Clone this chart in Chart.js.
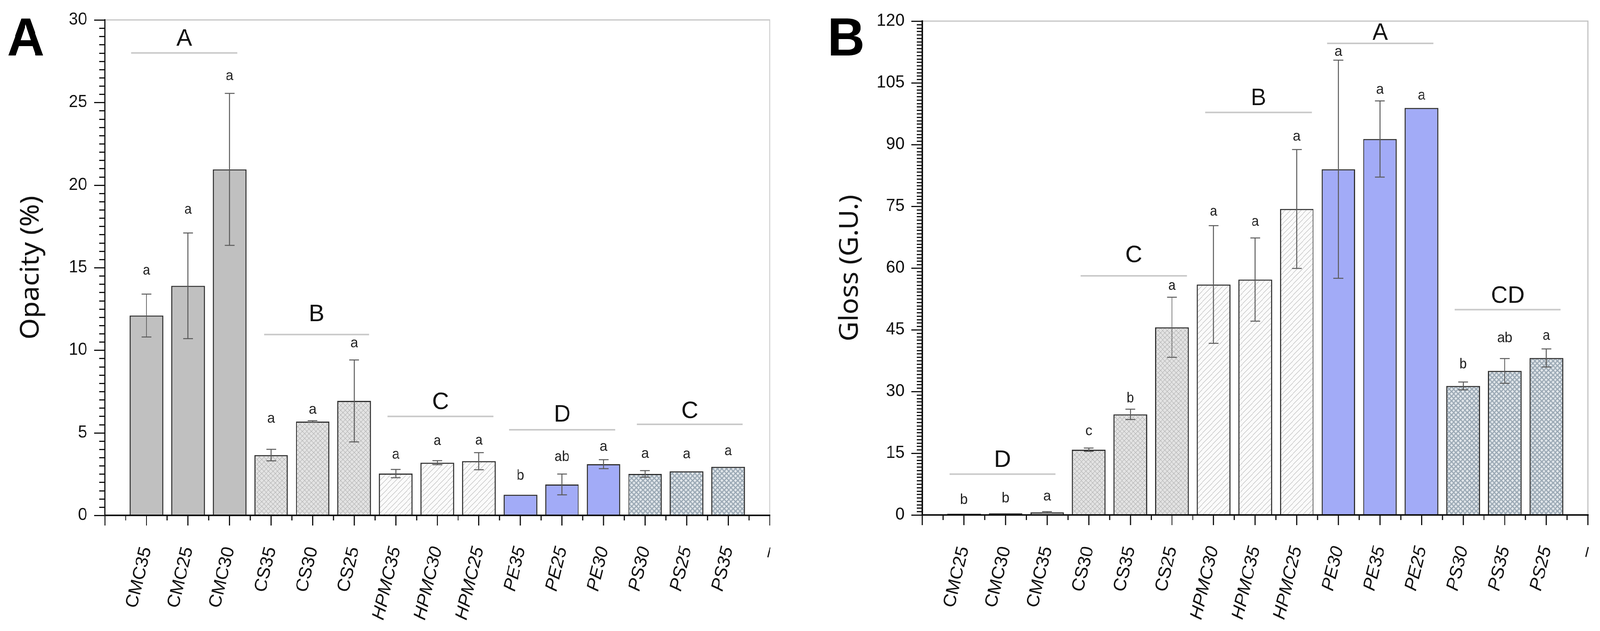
<!DOCTYPE html>
<html>
<head>
<meta charset="utf-8">
<title>Opacity and gloss of films</title>
<script src="https://cdn.jsdelivr.net/npm/chart.js@4.4.1/dist/chart.umd.min.js"></script>
<style>
  html, body { margin: 0; padding: 0; background: #fff; overflow: hidden; }
  #stage { position: absolute; left: 0; top: 0; width: 4255px; height: 1615px; transform-origin: 0 0; }
  canvas { position: absolute; top: 0; }
  #opacityChart { left: 0; }
  #glossChart { left: 2150px; }
</style>
</head>
<body>
<div id="stage">
<canvas id="opacityChart" width="2150" height="1615"></canvas>
<canvas id="glossChart" width="2105" height="1615"></canvas>
</div>
<script>
// Panel A - opacity (%). First and last slots are the empty ends of the axis.
const opacityLabels = ['', 'CMC35', 'CMC25', 'CMC30', 'CS35', 'CS30', 'CS25', 'HPMC35', 'HPMC30', 'HPMC25', 'PE35', 'PE25', 'PE30', 'PS30', 'PS25', 'PS35', '–'];
const opacityValues = [null, 12.1, 13.9, 20.95, 3.65, 5.68, 6.93, 2.53, 3.19, 3.28, 1.25, 1.87, 3.1, 2.51, 2.67, 2.94, null];
const opacityErrors = [0, 1.3, 3.2, 4.6, 0.35, 0.05, 2.48, 0.25, 0.12, 0.52, 0, 0.63, 0.27, 0.2, 0, 0, 0];
const opacityLetters = ['', 'a', 'a', 'a', 'a', 'a', 'a', 'a', 'a', 'a', 'b', 'ab', 'a', 'a', 'a', 'a', ''];
const opacityLetterAt = [0, 14.8, 18.5, 26.6, 5.84, 6.39, 10.4, 3.67, 4.5, 4.52, 2.39, 3.52, 4.14, 3.71, 3.69, 3.88, 0];
const opacityGroups = ['A', 'B', 'C', 'D', 'C'];
const opacityGroupFrom = [0.63, 3.83, 6.8, 9.73, 12.8];
const opacityGroupTo = [3.19, 6.36, 9.35, 12.28, 15.35];
const opacityGroupLine = [28.0, 10.95, 5.99, 5.18, 5.51];
const opacityGroupText = [28.84, 12.16, 6.84, 6.08, 6.29];
const opacityTicks = { max: 30, step: 5, minor: 10 };

// Panel B - gloss (G.U.)
const glossLabels = ['', 'CMC25', 'CMC30', 'CMC35', 'CS30', 'CS35', 'CS25', 'HPMC30', 'HPMC35', 'HPMC25', 'PE30', 'PE35', 'PE25', 'PS30', 'PS35', 'PS25', '–'];
const glossValues = [null, 0.3, 0.4, 0.65, 15.85, 24.45, 45.6, 56.0, 57.2, 74.35, 84.0, 91.35, 98.9, 31.35, 35.0, 38.15, null];
const glossErrors = [0, 0, 0, 0.15, 0.4, 1.25, 7.3, 14.3, 10.1, 14.45, 26.5, 9.25, 0, 0.95, 3.0, 2.2, 0];
const glossLetters = ['', 'b', 'b', 'a', 'c', 'b', 'a', 'a', 'a', 'a', 'a', 'a', 'a', 'b', 'ab', 'a', ''];
const glossLetterAt = [0, 3.56, 4.0, 4.5, 20.35, 28.3, 55.6, 73.7, 71.2, 91.9, 112.5, 103.3, 101.9, 36.55, 42.9, 43.5, 0];
const glossGroups = ['D', 'C', 'B', 'A', 'CD'];
const glossGroupFrom = [0.65, 3.8, 6.8, 9.73, 12.8];
const glossGroupTo = [3.2, 6.36, 9.36, 12.28, 15.34];
const glossGroupLine = [9.93, 58.1, 97.8, 114.6, 49.9];
const glossGroupText = [13.3, 63.0, 101.2, 117.1, 53.2];
const glossTicks = { max: 120, step: 15, minor: 18 };

const TICK_FONT = '"Liberation Sans", Arial, sans-serif';

// the window can come out narrower than 4255, so squeeze the whole drawing to fit it
const stage = document.getElementById('stage');
stage.style.transform = `scale(${window.innerWidth / 4255}, ${window.innerHeight / 1615})`;

// hatch fills like the original figure
function pattern(size, base, draw) {
    const c = document.createElement('canvas');
    c.width = size; c.height = size;
    const g = c.getContext('2d');
    g.fillStyle = base;
    g.fillRect(0, 0, size, size);
    draw(g, size);
    return g.createPattern(c, 'repeat');
}

const fills = {
    CMC: '#c0c0c0',
    CS: pattern(12, '#e3e3e3', (g, s) => {
        g.strokeStyle = '#b3b3b3'; g.lineWidth = 1.2;
        g.beginPath();
        g.moveTo(0, 0); g.lineTo(s, s);
        g.moveTo(s, 0); g.lineTo(0, s);
        g.stroke();
    }),
    HPMC: pattern(14, '#fbfbfb', (g, s) => {
        g.strokeStyle = '#c6c6c6'; g.lineWidth = 1.5;
        g.beginPath();
        g.moveTo(-2, s + 2); g.lineTo(s + 2, -2);
        g.moveTo(-2, 2); g.lineTo(2, -2);
        g.moveTo(s - 2, s + 2); g.lineTo(s + 2, s - 2);
        g.stroke();
    }),
    PE: '#a2abf7',
    PS: pattern(12, '#e2e7eb', (g, s) => {
        g.strokeStyle = '#9ba9b5'; g.lineWidth = 3;
        g.beginPath();
        g.moveTo(0, 0); g.lineTo(s, s);
        g.moveTo(s, 0); g.lineTo(0, s);
        g.stroke();
    }),
};

function fillFor(label) {
    return fills[label.replace(/\d+/g, '')] || '#ffffff';
}

function makeDecor(cfg) {
    return {
        id: 'filmDecor',
        afterDatasetsDraw(chart) {
            const { ctx, scales: { x, y } } = chart;
            ctx.save();

            // error bars
            ctx.strokeStyle = '#5a5a5a';
            ctx.lineWidth = 2.5;
            cfg.errors.forEach((e, i) => {
                const v = cfg.values[i];
                if (!e || v == null) return;
                const px = x.getPixelForValue(i);
                const hi = y.getPixelForValue(v + e);
                const lo = y.getPixelForValue(v - e);
                ctx.beginPath();
                ctx.moveTo(px, hi); ctx.lineTo(px, lo);
                ctx.moveTo(px - 13, hi); ctx.lineTo(px + 13, hi);
                ctx.moveTo(px - 13, lo); ctx.lineTo(px + 13, lo);
                ctx.stroke();
            });

            // letters over each bar
            ctx.fillStyle = '#222';
            ctx.font = '36px ' + TICK_FONT;
            ctx.textAlign = 'center';
            ctx.textBaseline = 'middle';
            cfg.letters.forEach((t, i) => {
                if (!t) return;
                ctx.fillText(t, x.getPixelForValue(i), y.getPixelForValue(cfg.letterAt[i]));
            });

            // group lines + group letters
            ctx.strokeStyle = '#c9c9c9';
            ctx.lineWidth = 4;
            ctx.fillStyle = '#111';
            ctx.font = '62px ' + TICK_FONT;
            cfg.groups.forEach((t, i) => {
                const x0 = x.getPixelForValue(cfg.groupFrom[i]);
                const x1 = x.getPixelForValue(cfg.groupTo[i]);
                const ly = y.getPixelForValue(cfg.groupLine[i]);
                ctx.beginPath();
                ctx.moveTo(x0, ly); ctx.lineTo(x1, ly);
                ctx.stroke();
                ctx.fillText(t, (x0 + x1) / 2, y.getPixelForValue(cfg.groupText[i]));
            });
            ctx.restore();
        },
        afterDraw(chart) {
            const { ctx, chartArea: a, scales: { x, y } } = chart;
            ctx.save();

            // light frame on top and right
            ctx.strokeStyle = '#c4c4c4';
            ctx.lineWidth = 3;
            ctx.beginPath();
            ctx.moveTo(a.left, a.top); ctx.lineTo(a.right, a.top); ctx.lineTo(a.right, a.bottom);
            ctx.stroke();

            // black axes
            ctx.strokeStyle = '#111';
            ctx.lineWidth = 4;
            ctx.beginPath();
            ctx.moveTo(a.left, a.top - 2); ctx.lineTo(a.left, a.bottom);
            ctx.moveTo(a.left, a.bottom); ctx.lineTo(a.right + 2, a.bottom);
            ctx.stroke();

            // y ticks, major and minor
            ctx.lineWidth = 3;
            ctx.beginPath();
            const t = cfg.ticks;
            const n = (t.max / t.step) * t.minor;
            for (let k = 0; k <= n; k++) {
                const v = k * t.step / t.minor;
                const py = Math.round(y.getPixelForValue(v)) + 0.5;
                const len = k % t.minor === 0 ? 29 : 15;
                ctx.moveTo(a.left - len, py); ctx.lineTo(a.left, py);
            }
            // x ticks: long at each slot, short halfway between
            for (let i = 0; i < cfg.labels.length; i++) {
                const px = x.getPixelForValue(i);
                ctx.moveTo(px, a.bottom); ctx.lineTo(px, a.bottom + 26);
                if (i < cfg.labels.length - 1) {
                    const hx = x.getPixelForValue(i + 0.5);
                    ctx.moveTo(hx, a.bottom); ctx.lineTo(hx, a.bottom + 13);
                }
            }
            ctx.stroke();

            // panel letter
            ctx.fillStyle = '#000';
            ctx.font = 'bold 137px ' + TICK_FONT;
            ctx.textAlign = 'left';
            ctx.textBaseline = 'alphabetic';
            ctx.fillText(cfg.panel, cfg.panelX, 142);
            ctx.restore();
        }
    };
}

function makeChart(id, cfg) {
    return new Chart(document.getElementById(id), {
        type: 'bar',
        data: {
            labels: cfg.labels,
            datasets: [{
                data: cfg.values,
                backgroundColor: cfg.labels.map(fillFor),
                borderColor: '#2f2f2f',
                borderWidth: 3,
                barPercentage: 0.81,
                categoryPercentage: 1,
            }],
        },
        options: {
            responsive: false,
            animation: false,
            devicePixelRatio: 1,
            layout: { padding: cfg.padding },
            plugins: { legend: { display: false }, tooltip: { enabled: false } },
            scales: {
                x: {
                    type: 'category',
                    offset: false,
                    grid: { display: false, drawTicks: false },
                    border: { display: false },
                    ticks: {
                        autoSkip: false,
                        minRotation: 76,
                        maxRotation: 76,
                        padding: 75,
                        color: '#111',
                        // the H.../P... names are set in italics in the original
                        font: c => ({
                            family: TICK_FONT,
                            size: 47,
                            style: /^[HP]/.test(cfg.labels[c.index] || '') ? 'italic' : 'normal',
                        }),
                    },
                    afterFit: s => {
                        s.height = cfg.xHeight;
                        s.paddingLeft = 0;
                        s.paddingRight = 0;
                    },
                },
                y: {
                    min: 0,
                    max: cfg.ticks.max,
                    grid: { display: false, drawTicks: false },
                    border: { display: false },
                    ticks: {
                        stepSize: cfg.ticks.step,
                        padding: 47,
                        color: '#111',
                        font: { family: TICK_FONT, size: cfg.tickSize },
                    },
                    title: {
                        display: true,
                        text: cfg.title,
                        color: '#111',
                        font: { family: '"Noto Sans", sans-serif', size: 70 },
                        padding: { top: cfg.titlePad, bottom: 0 },
                    },
                    afterFit: s => {
                        s.width = cfg.yWidth;
                        s.paddingTop = 0;
                        s.paddingBottom = 0;
                    },
                },
            },
        },
        plugins: [makeDecor(cfg)],
    });
}

makeChart('opacityChart', {
    labels: opacityLabels, values: opacityValues, errors: opacityErrors,
    letters: opacityLetters, letterAt: opacityLetterAt,
    groups: opacityGroups, groupFrom: opacityGroupFrom, groupTo: opacityGroupTo,
    groupLine: opacityGroupLine, groupText: opacityGroupText,
    ticks: opacityTicks, title: 'Opacity (%)', panel: 'A', panelX: 19,
    padding: { left: 0, top: 51, right: 103, bottom: 0 },
    yWidth: 279, xHeight: 296, titlePad: 41, tickSize: 44,
});

makeChart('glossChart', {
    labels: glossLabels, values: glossValues, errors: glossErrors,
    letters: glossLetters, letterAt: glossLetterAt,
    groups: glossGroups, groupFrom: glossGroupFrom, groupTo: glossGroupTo,
    groupLine: glossGroupLine, groupText: glossGroupText,
    ticks: glossTicks, title: 'Gloss (G.U.)', panel: 'B', panelX: 51,
    padding: { left: 0, top: 54, right: 32, bottom: 0 },
    yWidth: 303, xHeight: 297, titlePad: 69, tickSize: 45,
});
</script>
</body>
</html>
